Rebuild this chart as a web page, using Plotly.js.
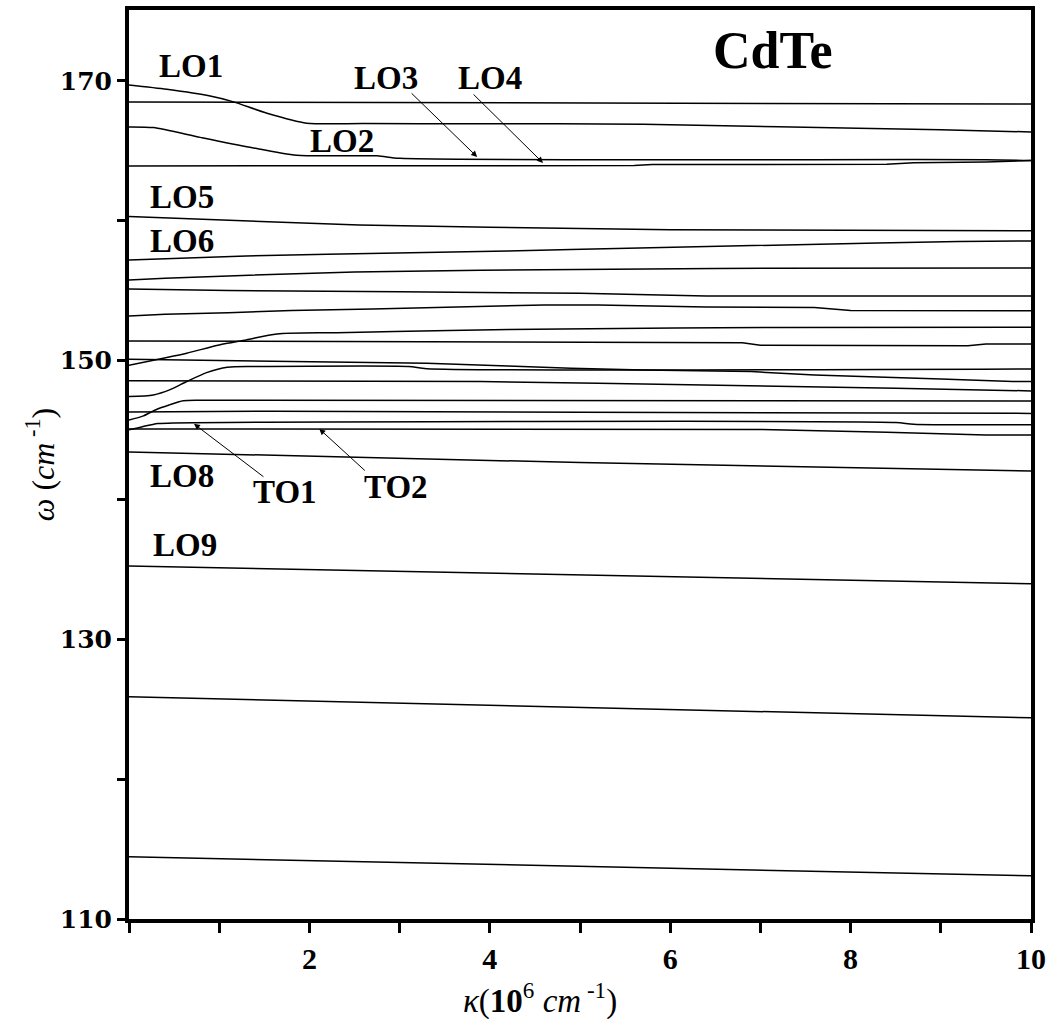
<!DOCTYPE html>
<html>
<head>
<meta charset="utf-8">
<script src="https://cdn.plot.ly/plotly-3.0.1.min.js"></script>
<style>html,body{margin:0;padding:0;background:#fff;}</style>
</head>
<body>
<div id="chart" style="width:1060px;height:1021px;"></div>
<script>
// ---- data: wave vector k (10^6 cm^-1) and frequency w (cm^-1) for each phonon branch ----
const k01 = [0, 0.42, 0.9, 1.15, 1.53, 1.97, 2.6, 3.8, 5.7, 7.2, 9.0, 10];  // LO1
const w01 = [169.71, 169.4, 168.92, 168.52, 167.69, 166.98, 166.95, 166.94, 166.9, 166.72, 166.5, 166.35];
const k02 = [0, 10];
const w02 = [168.5, 168.35];
const k03 = [0, 0.27, 0.79, 1.34, 1.86, 2.75, 3.0, 9.5, 10];                // LO2 / LO3
const w03 = [166.71, 166.66, 165.96, 165.25, 164.68, 164.64, 164.46, 164.36, 164.3];
const k04 = [0, 5.6, 5.8, 8.4, 8.7, 9.5, 10];                               // LO4
const w04 = [163.92, 163.94, 164.01, 164.03, 164.15, 164.2, 164.3];
const k05 = [0, 1.1, 1.8, 2.55, 4.0, 6.0, 10];                              // LO5
const w05 = [160.29, 160.05, 159.86, 159.69, 159.52, 159.35, 159.27];
const k06 = [0, 0.5, 1.3, 2.2, 3.1, 4.2, 4.9, 5.7, 6.6, 7.5, 8.3, 9.2, 10]; // LO6
const w06 = [157.19, 157.31, 157.47, 157.6, 157.68, 157.82, 157.94, 158.06, 158.19, 158.3, 158.4, 158.5, 158.55];
const k07 = [0, 0.4, 1.1, 1.8, 2.5, 3.9, 6.5, 10];
const w07 = [155.75, 155.88, 156.04, 156.18, 156.33, 156.44, 156.58, 156.61];
const k08 = [0, 1.1, 3.0, 5.0, 6.4, 10];
const w08 = [155.11, 155.0, 154.9, 154.8, 154.61, 154.61];
const k09 = [0, 0.4, 1.1, 1.8, 2.7, 3.9, 4.6, 5.2, 6.4, 7.6, 8.0, 10];
const w09 = [153.18, 153.3, 153.41, 153.56, 153.68, 153.89, 153.96, 153.96, 153.82, 153.78, 153.56, 153.54];
const k10 = [0, 6.8, 7.0, 9.3, 9.5, 10];
const w10 = [151.39, 151.25, 151.07, 151.05, 151.17, 151.17];
const k11 = [0, 2.3, 3.3, 4.2, 4.9, 5.7, 6.9, 7.6, 8.3, 9.0, 9.8, 10];
const w11 = [150.08, 149.91, 149.79, 149.6, 149.43, 149.31, 149.19, 148.95, 148.83, 148.67, 148.48, 148.48];
const k12 = [0, 0.38, 0.64, 1.0, 1.3, 1.64, 2.3, 3.55, 4.8, 7.2, 10];
const w12 = [149.64, 150.15, 150.51, 151.1, 151.46, 151.89, 151.98, 152.13, 152.25, 152.35, 152.36];
const k13 = [0, 3.9, 5.2, 7.1, 8.5, 10];
const w13 = [148.53, 148.48, 148.35, 148.17, 148.0, 147.81];
const k14 = [0, 0.27, 0.45, 0.64, 0.86, 1.09, 1.5, 3.1, 3.3, 10];
const w14 = [147.4, 147.52, 147.88, 148.48, 149.12, 149.51, 149.55, 149.55, 149.4, 149.38];
const k15 = [0, 1.6, 5, 10];
const w15 = [146.3, 146.36, 146.28, 146.2];
const k16 = [0, 0.16, 0.31, 0.45, 0.6, 0.8, 10];
const w16 = [145.72, 146.02, 146.5, 146.81, 147.1, 147.14, 147.09];
const k17 = [0, 7.0, 8.4, 9.5, 10];                                         // TO2
const w17 = [145.09, 145.05, 144.85, 144.66, 144.66];
const k18 = [0, 0.15, 0.32, 0.5, 8.5, 8.7, 10];                             // TO1
const w18 = [145.02, 145.25, 145.47, 145.52, 145.55, 145.42, 145.39];
const k19 = [0, 5, 10];                                                     // LO8
const w19 = [143.44, 142.68, 142.08];
const k20 = [0, 10];                                                        // LO9
const w20 = [135.28, 134.0];
const k21 = [0, 10];
const w21 = [125.91, 124.4];
const k22 = [0, 10];
const w22 = [114.45, 113.09];

const xTickVals = [0, 1, 2, 3, 4, 5, 6, 7, 8, 9, 10];
const xTickText = ['', '', '2', '', '4', '', '6', '', '8', '', '10'];
const yTickVals = [110, 120, 130, 140, 150, 160, 170];
const yTickText = ['110', '', '130', '', '150', '', '170'];

const branchK = [k01,k02,k03,k04,k05,k06,k07,k08,k09,k10,k11,k12,k13,k14,k15,k16,k17,k18,k19,k20,k21,k22];
const branchW = [w01,w02,w03,w04,w05,w06,w07,w08,w09,w10,w11,w12,w13,w14,w15,w16,w17,w18,w19,w20,w21,w22];
const curvedBranches = [0, 2, 11, 13, 15, 17];

const traces = branchK.map((kk, i) => ({
  x: kk, y: branchW[i], type: 'scatter', mode: 'lines',
  line: curvedBranches.includes(i)
    ? {color: '#000', width: 1.5, shape: 'spline', smoothing: 0.7}
    : {color: '#000', width: 1.5},
  hoverinfo: 'skip'
}));

const serif = 'Liberation Serif, Times New Roman, serif';
function label(text, x, y, size) {
  return {text: text, x: x, y: y, xref: 'x', yref: 'y', showarrow: false,
          font: {family: serif, size: size || 33, color: '#000', weight: 'bold'}};
}
function arrow(x, y, ax, ay) {
  return {text: '', x: x, y: y, xref: 'x', yref: 'y', ax: ax, ay: ay,
          showarrow: true, arrowhead: 2, arrowsize: 1.2, arrowwidth: 1, arrowcolor: '#000'};
}

const annotations = [
  label('CdTe', 7.13, 172.2, 52),
  label('LO1', 0.69, 171.1),
  label('LO3', 2.85, 170.2),
  label('LO4', 4.0, 170.2),
  label('LO2', 2.36, 165.7),
  label('LO5', 0.59, 161.7),
  label('LO6', 0.59, 158.55),
  label('LO8', 0.59, 141.7),
  label('TO1', 1.73, 140.58),
  label('TO2', 2.96, 140.94),
  label('LO9', 0.62, 136.79),
  arrow(3.86, 164.56, -67, -65),
  arrow(4.59, 164.13, -71, -70),
  arrow(0.72, 145.45, 71, 54),
  arrow(2.11, 145.09, 47, 43),
  // axis titles placed as annotations to match the reference position
  {text: '<i>κ</i>(<b>10</b><sup>6</sup> <i>cm</i><sup> -1</sup>)', xref: 'paper', yref: 'paper',
   x: 0.4557, y: -0.087, xanchor: 'center', yanchor: 'middle', showarrow: false,
   font: {family: serif, size: 33, color: '#000'}},
  {text: '<i>ω</i> (<i>cm</i><sup> -1</sup>)', xref: 'paper', yref: 'paper', textangle: -90,
   x: -0.099, y: 0.5, xanchor: 'center', yanchor: 'middle', showarrow: false,
   font: {family: serif, size: 32, color: '#000'}}
];

const layout = {
  width: 1060, height: 1021,
  margin: {l: 129, r: 29, t: 10, b: 102, pad: 0},
  paper_bgcolor: '#fff', plot_bgcolor: '#fff',
  showlegend: false,
  xaxis: {
    range: [0, 10], showgrid: false, zeroline: false,
    showline: true, mirror: true, linecolor: '#000', linewidth: 4,
    ticks: 'outside', ticklen: 10, tickwidth: 3, tickcolor: '#000',
    tickvals: xTickVals, ticktext: xTickText,
    tickfont: {family: serif, size: 30, color: '#000', weight: 'bold'}
  },
  yaxis: {
    range: [110, 175.08], showgrid: false, zeroline: false,
    showline: true, mirror: true, linecolor: '#000', linewidth: 4,
    ticks: 'outside', ticklen: 8, tickwidth: 3, tickcolor: '#000',
    tickvals: yTickVals, ticktext: yTickText,
    tickfont: {family: 'DejaVu Serif, serif', size: 25, color: '#000', weight: 'bold'}
  },
  annotations: annotations
};

Plotly.newPlot('chart', traces, layout, {staticPlot: true, displayModeBar: false});
</script>
</body>
</html>
